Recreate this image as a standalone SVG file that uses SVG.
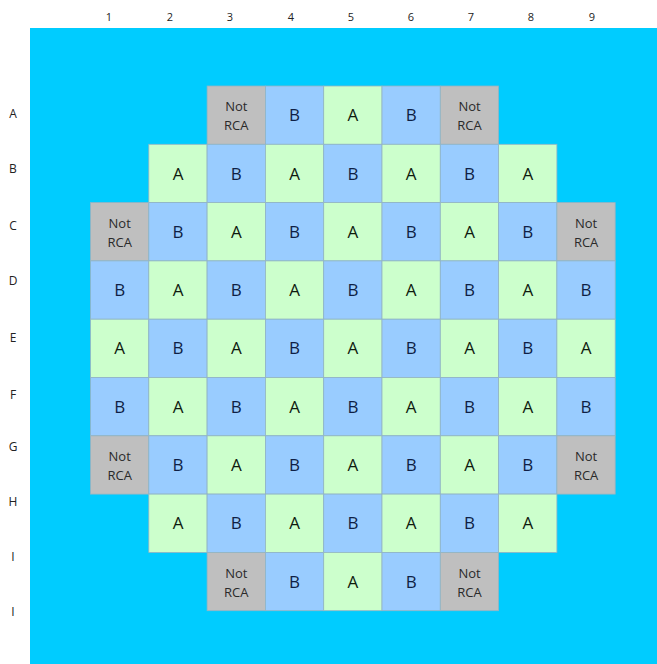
<svg xmlns="http://www.w3.org/2000/svg" width="657" height="664" viewBox="0 0 657 664">
<style>
.lbl{font-family:"Open Sans","Liberation Sans",sans-serif;font-size:11px;fill:#222;text-anchor:middle}
.rl{font-family:"Open Sans","Liberation Sans",sans-serif;font-size:12px;fill:#222;text-anchor:middle}
.cell{stroke:#93b4c4;stroke-width:0.8}
.a{fill:#ccffcc}
.b{fill:#99ccff}
.n{fill:#bfbfbf}
.ta{font-family:"Open Sans","Liberation Sans",sans-serif;font-size:17px;fill:#0f1a0f;text-anchor:middle}
.tb{font-family:"Open Sans","Liberation Sans",sans-serif;font-size:17px;fill:#0f1f45;text-anchor:middle}
.tn{font-family:"Open Sans","Liberation Sans",sans-serif;font-size:13px;fill:#2a2a2a;text-anchor:middle}
</style>
<rect x="0" y="0" width="657" height="664" fill="#ffffff"/>
<rect x="30" y="28" width="627" height="636" fill="#00ccff"/>
<g id="col-labels">
<text class="lbl" x="109" y="21">1</text>
<text class="lbl" x="170" y="21">2</text>
<text class="lbl" x="230" y="21">3</text>
<text class="lbl" x="291" y="21">4</text>
<text class="lbl" x="351" y="21">5</text>
<text class="lbl" x="411" y="21">6</text>
<text class="lbl" x="471" y="21">7</text>
<text class="lbl" x="531" y="21">8</text>
<text class="lbl" x="592" y="21">9</text>
</g>
<g id="row-labels">
<text class="rl" x="13" y="118">A</text>
<text class="rl" x="13" y="173">B</text>
<text class="rl" x="13" y="230">C</text>
<text class="rl" x="13" y="285">D</text>
<text class="rl" x="13" y="342">E</text>
<text class="rl" x="13" y="399">F</text>
<text class="rl" x="13" y="451">G</text>
<text class="rl" x="13" y="506">H</text>
<text class="rl" x="13" y="561">I</text>
<text class="rl" x="13" y="616">I</text>
</g>
<g id="cells">
<!-- Row A -->
<g id="A3"><rect class="cell n" x="207.1" y="86" width="58.3" height="58.3"/><text class="tn" x="236.3" y="111.2">Not</text><text class="tn" x="236.3" y="130.2">RCA</text></g>
<g id="A4"><rect class="cell b" x="265.4" y="86" width="58.3" height="58.3"/><text class="tb" x="294.6" y="121.2">B</text></g>
<g id="A5"><rect class="cell a" x="323.7" y="86" width="58.3" height="58.3"/><text class="ta" x="352.9" y="121.2">A</text></g>
<g id="A6"><rect class="cell b" x="382" y="86" width="58.3" height="58.3"/><text class="tb" x="411.2" y="121.2">B</text></g>
<g id="A7"><rect class="cell n" x="440.3" y="86" width="58.3" height="58.3"/><text class="tn" x="469.5" y="111.2">Not</text><text class="tn" x="469.5" y="130.2">RCA</text></g>
<!-- Row B -->
<g id="B2"><rect class="cell a" x="148.8" y="144.3" width="58.3" height="58.3"/><text class="ta" x="178" y="179.5">A</text></g>
<g id="B3"><rect class="cell b" x="207.1" y="144.3" width="58.3" height="58.3"/><text class="tb" x="236.3" y="179.5">B</text></g>
<g id="B4"><rect class="cell a" x="265.4" y="144.3" width="58.3" height="58.3"/><text class="ta" x="294.6" y="179.5">A</text></g>
<g id="B5"><rect class="cell b" x="323.7" y="144.3" width="58.3" height="58.3"/><text class="tb" x="352.9" y="179.5">B</text></g>
<g id="B6"><rect class="cell a" x="382" y="144.3" width="58.3" height="58.3"/><text class="ta" x="411.2" y="179.5">A</text></g>
<g id="B7"><rect class="cell b" x="440.3" y="144.3" width="58.3" height="58.3"/><text class="tb" x="469.5" y="179.5">B</text></g>
<g id="B8"><rect class="cell a" x="498.6" y="144.3" width="58.3" height="58.3"/><text class="ta" x="527.8" y="179.5">A</text></g>
<!-- Row C -->
<g id="C1"><rect class="cell n" x="90.5" y="202.6" width="58.3" height="58.3"/><text class="tn" x="119.7" y="227.8">Not</text><text class="tn" x="119.7" y="246.8">RCA</text></g>
<g id="C2"><rect class="cell b" x="148.8" y="202.6" width="58.3" height="58.3"/><text class="tb" x="178" y="237.8">B</text></g>
<g id="C3"><rect class="cell a" x="207.1" y="202.6" width="58.3" height="58.3"/><text class="ta" x="236.3" y="237.8">A</text></g>
<g id="C4"><rect class="cell b" x="265.4" y="202.6" width="58.3" height="58.3"/><text class="tb" x="294.6" y="237.8">B</text></g>
<g id="C5"><rect class="cell a" x="323.7" y="202.6" width="58.3" height="58.3"/><text class="ta" x="352.9" y="237.8">A</text></g>
<g id="C6"><rect class="cell b" x="382" y="202.6" width="58.3" height="58.3"/><text class="tb" x="411.2" y="237.8">B</text></g>
<g id="C7"><rect class="cell a" x="440.3" y="202.6" width="58.3" height="58.3"/><text class="ta" x="469.5" y="237.8">A</text></g>
<g id="C8"><rect class="cell b" x="498.6" y="202.6" width="58.3" height="58.3"/><text class="tb" x="527.8" y="237.8">B</text></g>
<g id="C9"><rect class="cell n" x="556.9" y="202.6" width="58.3" height="58.3"/><text class="tn" x="586.1" y="227.8">Not</text><text class="tn" x="586.1" y="246.8">RCA</text></g>
<!-- Row D -->
<g id="D1"><rect class="cell b" x="90.5" y="260.9" width="58.3" height="58.3"/><text class="tb" x="119.7" y="296.1">B</text></g>
<g id="D2"><rect class="cell a" x="148.8" y="260.9" width="58.3" height="58.3"/><text class="ta" x="178" y="296.1">A</text></g>
<g id="D3"><rect class="cell b" x="207.1" y="260.9" width="58.3" height="58.3"/><text class="tb" x="236.3" y="296.1">B</text></g>
<g id="D4"><rect class="cell a" x="265.4" y="260.9" width="58.3" height="58.3"/><text class="ta" x="294.6" y="296.1">A</text></g>
<g id="D5"><rect class="cell b" x="323.7" y="260.9" width="58.3" height="58.3"/><text class="tb" x="352.9" y="296.1">B</text></g>
<g id="D6"><rect class="cell a" x="382" y="260.9" width="58.3" height="58.3"/><text class="ta" x="411.2" y="296.1">A</text></g>
<g id="D7"><rect class="cell b" x="440.3" y="260.9" width="58.3" height="58.3"/><text class="tb" x="469.5" y="296.1">B</text></g>
<g id="D8"><rect class="cell a" x="498.6" y="260.9" width="58.3" height="58.3"/><text class="ta" x="527.8" y="296.1">A</text></g>
<g id="D9"><rect class="cell b" x="556.9" y="260.9" width="58.3" height="58.3"/><text class="tb" x="586.1" y="296.1">B</text></g>
<!-- Row E -->
<g id="E1"><rect class="cell a" x="90.5" y="319.2" width="58.3" height="58.3"/><text class="ta" x="119.7" y="354.4">A</text></g>
<g id="E2"><rect class="cell b" x="148.8" y="319.2" width="58.3" height="58.3"/><text class="tb" x="178" y="354.4">B</text></g>
<g id="E3"><rect class="cell a" x="207.1" y="319.2" width="58.3" height="58.3"/><text class="ta" x="236.3" y="354.4">A</text></g>
<g id="E4"><rect class="cell b" x="265.4" y="319.2" width="58.3" height="58.3"/><text class="tb" x="294.6" y="354.4">B</text></g>
<g id="E5"><rect class="cell a" x="323.7" y="319.2" width="58.3" height="58.3"/><text class="ta" x="352.9" y="354.4">A</text></g>
<g id="E6"><rect class="cell b" x="382" y="319.2" width="58.3" height="58.3"/><text class="tb" x="411.2" y="354.4">B</text></g>
<g id="E7"><rect class="cell a" x="440.3" y="319.2" width="58.3" height="58.3"/><text class="ta" x="469.5" y="354.4">A</text></g>
<g id="E8"><rect class="cell b" x="498.6" y="319.2" width="58.3" height="58.3"/><text class="tb" x="527.8" y="354.4">B</text></g>
<g id="E9"><rect class="cell a" x="556.9" y="319.2" width="58.3" height="58.3"/><text class="ta" x="586.1" y="354.4">A</text></g>
<!-- Row F -->
<g id="F1"><rect class="cell b" x="90.5" y="377.5" width="58.3" height="58.3"/><text class="tb" x="119.7" y="412.7">B</text></g>
<g id="F2"><rect class="cell a" x="148.8" y="377.5" width="58.3" height="58.3"/><text class="ta" x="178" y="412.7">A</text></g>
<g id="F3"><rect class="cell b" x="207.1" y="377.5" width="58.3" height="58.3"/><text class="tb" x="236.3" y="412.7">B</text></g>
<g id="F4"><rect class="cell a" x="265.4" y="377.5" width="58.3" height="58.3"/><text class="ta" x="294.6" y="412.7">A</text></g>
<g id="F5"><rect class="cell b" x="323.7" y="377.5" width="58.3" height="58.3"/><text class="tb" x="352.9" y="412.7">B</text></g>
<g id="F6"><rect class="cell a" x="382" y="377.5" width="58.3" height="58.3"/><text class="ta" x="411.2" y="412.7">A</text></g>
<g id="F7"><rect class="cell b" x="440.3" y="377.5" width="58.3" height="58.3"/><text class="tb" x="469.5" y="412.7">B</text></g>
<g id="F8"><rect class="cell a" x="498.6" y="377.5" width="58.3" height="58.3"/><text class="ta" x="527.8" y="412.7">A</text></g>
<g id="F9"><rect class="cell b" x="556.9" y="377.5" width="58.3" height="58.3"/><text class="tb" x="586.1" y="412.7">B</text></g>
<!-- Row G -->
<g id="G1"><rect class="cell n" x="90.5" y="435.8" width="58.3" height="58.3"/><text class="tn" x="119.7" y="461">Not</text><text class="tn" x="119.7" y="480">RCA</text></g>
<g id="G2"><rect class="cell b" x="148.8" y="435.8" width="58.3" height="58.3"/><text class="tb" x="178" y="471">B</text></g>
<g id="G3"><rect class="cell a" x="207.1" y="435.8" width="58.3" height="58.3"/><text class="ta" x="236.3" y="471">A</text></g>
<g id="G4"><rect class="cell b" x="265.4" y="435.8" width="58.3" height="58.3"/><text class="tb" x="294.6" y="471">B</text></g>
<g id="G5"><rect class="cell a" x="323.7" y="435.8" width="58.3" height="58.3"/><text class="ta" x="352.9" y="471">A</text></g>
<g id="G6"><rect class="cell b" x="382" y="435.8" width="58.3" height="58.3"/><text class="tb" x="411.2" y="471">B</text></g>
<g id="G7"><rect class="cell a" x="440.3" y="435.8" width="58.3" height="58.3"/><text class="ta" x="469.5" y="471">A</text></g>
<g id="G8"><rect class="cell b" x="498.6" y="435.8" width="58.3" height="58.3"/><text class="tb" x="527.8" y="471">B</text></g>
<g id="G9"><rect class="cell n" x="556.9" y="435.8" width="58.3" height="58.3"/><text class="tn" x="586.1" y="461">Not</text><text class="tn" x="586.1" y="480">RCA</text></g>
<!-- Row H -->
<g id="H2"><rect class="cell a" x="148.8" y="494.1" width="58.3" height="58.3"/><text class="ta" x="178" y="529.3">A</text></g>
<g id="H3"><rect class="cell b" x="207.1" y="494.1" width="58.3" height="58.3"/><text class="tb" x="236.3" y="529.3">B</text></g>
<g id="H4"><rect class="cell a" x="265.4" y="494.1" width="58.3" height="58.3"/><text class="ta" x="294.6" y="529.3">A</text></g>
<g id="H5"><rect class="cell b" x="323.7" y="494.1" width="58.3" height="58.3"/><text class="tb" x="352.9" y="529.3">B</text></g>
<g id="H6"><rect class="cell a" x="382" y="494.1" width="58.3" height="58.3"/><text class="ta" x="411.2" y="529.3">A</text></g>
<g id="H7"><rect class="cell b" x="440.3" y="494.1" width="58.3" height="58.3"/><text class="tb" x="469.5" y="529.3">B</text></g>
<g id="H8"><rect class="cell a" x="498.6" y="494.1" width="58.3" height="58.3"/><text class="ta" x="527.8" y="529.3">A</text></g>
<!-- Row I -->
<g id="I3"><rect class="cell n" x="207.1" y="552.4" width="58.3" height="58.3"/><text class="tn" x="236.3" y="577.6">Not</text><text class="tn" x="236.3" y="596.6">RCA</text></g>
<g id="I4"><rect class="cell b" x="265.4" y="552.4" width="58.3" height="58.3"/><text class="tb" x="294.6" y="587.6">B</text></g>
<g id="I5"><rect class="cell a" x="323.7" y="552.4" width="58.3" height="58.3"/><text class="ta" x="352.9" y="587.6">A</text></g>
<g id="I6"><rect class="cell b" x="382" y="552.4" width="58.3" height="58.3"/><text class="tb" x="411.2" y="587.6">B</text></g>
<g id="I7"><rect class="cell n" x="440.3" y="552.4" width="58.3" height="58.3"/><text class="tn" x="469.5" y="577.6">Not</text><text class="tn" x="469.5" y="596.6">RCA</text></g>
</g>
<g id="connectors"/>
</svg>
